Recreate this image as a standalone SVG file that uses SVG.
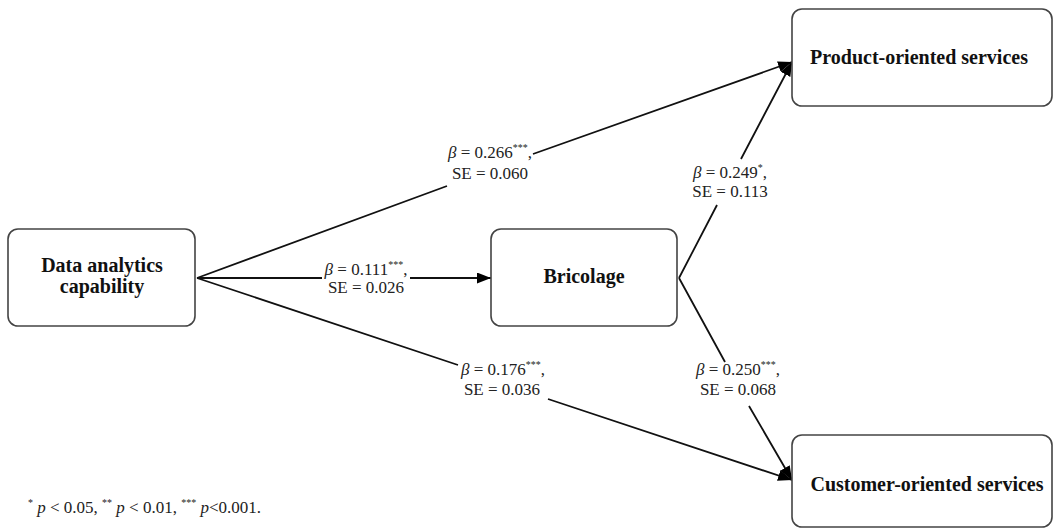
<svg xmlns="http://www.w3.org/2000/svg" width="1054" height="529" viewBox="0 0 1054 529">
<defs>
<marker id="arr" markerUnits="userSpaceOnUse" markerWidth="15" markerHeight="11" refX="14" refY="5.5" orient="auto">
<path d="M0,0 L14,5.5 L0,11 z" fill="#000"/>
</marker>
<style>
.box{fill:#fff;stroke:#444;stroke-width:1.6}
.nl{font-family:"Liberation Serif","Times New Roman",serif;font-weight:bold;font-size:20px;fill:#111;text-anchor:middle}
.lb{font-family:"Liberation Serif","Times New Roman",serif;font-size:17px;fill:#222;text-anchor:middle}
.ft{font-family:"Liberation Serif","Times New Roman",serif;font-size:17px;fill:#222}
.it{font-style:italic}
.sup{font-size:10px}
.cn{fill:none;stroke:#111;stroke-width:1.8}
</style>
</defs>
<rect width="1054" height="529" fill="#fff"/>
<g id="connectors">
<path class="cn" d="M197,278 L447,186 M533,154 L792,62" marker-end="url(#arr)"/>
<path class="cn" d="M197,278 L322,278 M410,278 L491,278" marker-end="url(#arr)"/>
<path class="cn" d="M197,278 L458,365 M548,399 L792,480" marker-end="url(#arr)"/>
<path class="cn" d="M679,278 L717,205 M741,159 L792,62" marker-end="url(#arr)"/>
<path class="cn" d="M679,278 L725,362 M749,406 L792,480" marker-end="url(#arr)"/>
</g>
<g id="node-dac">
<rect class="box" x="8" y="229" width="187" height="97" rx="10"/>
<text class="nl" x="102" y="272">Data analytics</text>
<text class="nl" x="102" y="293">capability</text>
</g>
<g id="node-bricolage">
<rect class="box" x="491" y="229" width="186" height="97" rx="10"/>
<text class="nl" x="584" y="283">Bricolage</text>
</g>
<g id="node-product">
<rect class="box" x="792" y="9" width="260" height="97" rx="10"/>
<text class="nl" x="919" y="64">Product-oriented services</text>
</g>
<g id="node-customer">
<rect class="box" x="792" y="435" width="260" height="92" rx="10"/>
<text class="nl" x="927" y="491">Customer-oriented services</text>
</g>
<g id="labels">
<text class="lb" x="490" y="158"><tspan class="it">β</tspan> = 0.266<tspan class="sup" dy="-7">***</tspan><tspan dy="7">,</tspan></text>
<text class="lb" x="490" y="179">SE = 0.060</text>
<text class="lb" x="366" y="275"><tspan class="it">β</tspan> = 0.111<tspan class="sup" dy="-7">***</tspan><tspan dy="7">,</tspan></text>
<text class="lb" x="366" y="293">SE = 0.026</text>
<text class="lb" x="503" y="375"><tspan class="it">β</tspan> = 0.176<tspan class="sup" dy="-7">***</tspan><tspan dy="7">,</tspan></text>
<text class="lb" x="502" y="395">SE = 0.036</text>
<text class="lb" x="730" y="178"><tspan class="it">β</tspan> = 0.249<tspan class="sup" dy="-7">*</tspan><tspan dy="7">,</tspan></text>
<text class="lb" x="730" y="197">SE = 0.113</text>
<text class="lb" x="738" y="375"><tspan class="it">β</tspan> = 0.250<tspan class="sup" dy="-7">***</tspan><tspan dy="7">,</tspan></text>
<text class="lb" x="738" y="395">SE = 0.068</text>
</g>
<g id="footnote">
<text class="ft" x="28" y="513"><tspan class="sup" dy="-7">*</tspan><tspan dy="7"> </tspan><tspan class="it">p</tspan> &lt; 0.05, <tspan class="sup" dy="-7">**</tspan><tspan dy="7"> </tspan><tspan class="it">p</tspan> &lt; 0.01, <tspan class="sup" dy="-7">***</tspan><tspan dy="7"> </tspan><tspan class="it">p</tspan>&lt;0.001.</text>
</g>
</svg>
